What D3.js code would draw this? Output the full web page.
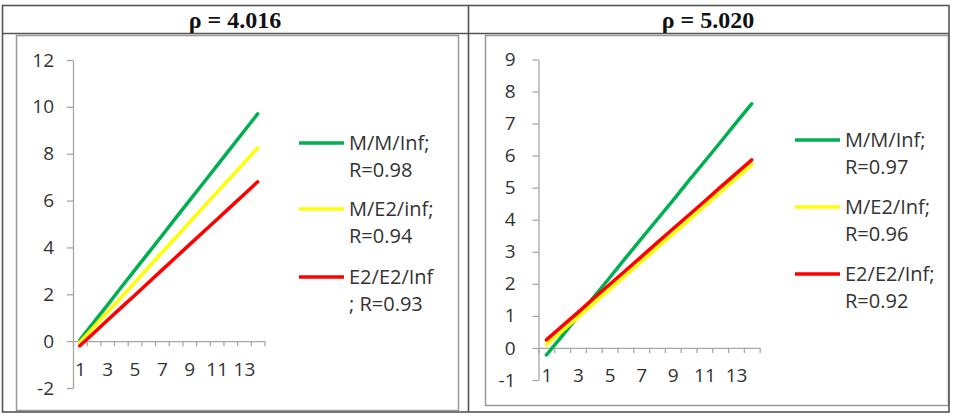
<!DOCTYPE html>
<html>
<head>
<meta charset="utf-8">
<script src="https://cdn.jsdelivr.net/npm/d3@7"></script>
<style>
  body { margin: 0; background: #fff; }
  svg { display: block; }
</style>
</head>
<body>
<div id="chart"></div>
<script>
var width = 966
var height = 417

// data
var categories = [1, 2, 3, 4, 5, 6, 7, 8, 9, 10, 11, 12, 13, 14]
var xLabels = [1, 3, 5, 7, 9, 11, 13]
var titles = ["ρ = 4.016", "ρ = 5.020"]
var colors = ["#00B050", "#FFFF00", "#FF0000"]

var yTicksLeft = [-2, 0, 2, 4, 6, 8, 10, 12]
var yTicksRight = [-1, 0, 1, 2, 3, 4, 5, 6, 7, 8, 9]

var leftMM   = [0.05, 0.79, 1.53, 2.28, 3.02, 3.76, 4.50, 5.25, 5.99, 6.73, 7.47, 8.22, 8.96, 9.70]
var leftME2  = [-0.05, 0.59, 1.23, 1.86, 2.50, 3.14, 3.78, 4.42, 5.06, 5.70, 6.34, 6.97, 7.61, 8.25]
var leftE2E2 = [-0.20, 0.34, 0.88, 1.42, 1.95, 2.49, 3.03, 3.57, 4.11, 4.65, 5.18, 5.72, 6.26, 6.80]

var rightMM   = [-0.22, 0.38, 0.99, 1.59, 2.19, 2.80, 3.40, 4.00, 4.60, 5.21, 5.81, 6.41, 7.02, 7.62]
var rightME2  = [0.10, 0.53, 0.96, 1.40, 1.83, 2.26, 2.69, 3.13, 3.56, 3.99, 4.42, 4.86, 5.29, 5.72]
var rightE2E2 = [0.25, 0.68, 1.11, 1.55, 1.98, 2.41, 2.84, 3.28, 3.71, 4.14, 4.57, 5.01, 5.44, 5.87]

var leftLegend  = [["M/M/Inf;", "R=0.98"], ["M/E2/inf;", "R=0.94"], ["E2/E2/Inf", "; R=0.93"]]
var rightLegend = [["M/M/Inf;", "R=0.97"], ["M/E2/Inf;", "R=0.96"], ["E2/E2/Inf;", "R=0.92"]]

var panels = [
  {
    title: titles[0], titleX: 235,
    series: [leftMM, leftME2, leftE2E2], legend: leftLegend,
    yDomain: [-2, 12], yTicks: yTicksLeft,
    xRange: [73, 264.5], yRange: [388, 60], yPad: 13,
    legX: 299, legY: [143, 209, 277], legGap: 27,
    frame: [16, 35, 442, 375]
  },
  {
    title: titles[1], titleX: 708,
    series: [rightMM, rightME2, rightE2E2], legend: rightLegend,
    yDomain: [-1, 9], yTicks: yTicksRight,
    xRange: [538.5, 759.7], yRange: [380, 59.5], yPad: 17,
    legX: 795, legY: [140, 207, 274], legGap: 26.5,
    frame: [485, 35, 463, 370]
  }
]

var svg = d3.select("#chart")
  .append("svg")
    .attr("width", width)
    .attr("height", height)

svg.append("rect")
  .attr("width", width)
  .attr("height", height)
  .attr("fill", "#fff")

// chart frames
panels.forEach(function(p) {
  svg.append("rect")
    .attr("x", p.frame[0] + 0.5)
    .attr("y", p.frame[1] + 0.5)
    .attr("width", p.frame[2])
    .attr("height", p.frame[3])
    .attr("fill", "none")
    .attr("stroke", "#999")
    .attr("stroke-width", 1.5)
})

// table lines
var table = svg.append("g")
  .attr("fill", "none")
  .attr("stroke", "#555")
  .attr("stroke-width", 1.6)
table.append("rect").attr("x", 2.5).attr("y", 5.5).attr("width", 946.5).attr("height", 406.5)
table.append("line").attr("x1", 2.5).attr("x2", 949).attr("y1", 33.5).attr("y2", 33.5)
table.append("line").attr("x1", 468.5).attr("x2", 468.5).attr("y1", 5.5).attr("y2", 412)

panels.forEach(function(p) {
  svg.append("text")
    .attr("x", p.titleX)
    .attr("y", 28)
    .attr("text-anchor", "middle")
    .style("font-family", "'Liberation Serif', 'Times New Roman', serif")
    .style("font-weight", "bold")
    .style("font-size", "24px")
    .attr("fill", "#111")
    .text(p.title)

  var x = d3.scaleLinear()
    .domain([0.5, categories.length + 0.5])
    .range(p.xRange)
  var y = d3.scaleLinear()
    .domain(p.yDomain)
    .range(p.yRange)

  var g = svg.append("g")

  // y axis
  g.append("g")
    .attr("transform", "translate(" + p.xRange[0] + ",0)")
    .call(d3.axisLeft(y).tickValues(p.yTicks).tickSize(6).tickSizeOuter(0).tickPadding(p.yPad).tickFormat(String))
  // x axis: tick marks between categories
  g.append("g")
    .attr("transform", "translate(0," + y(0) + ")")
    .call(d3.axisBottom(x).tickValues(d3.range(0.5, categories.length + 1, 1)).tickSize(5).tickSizeOuter(0).tickFormat(""))
  var xLabelAxis = g.append("g")
    .attr("transform", "translate(0," + y(0) + ")")
    .call(d3.axisBottom(x).tickValues(xLabels).tickSize(0).tickPadding(21).tickFormat(String))
  xLabelAxis.select(".domain").remove()

  g.selectAll(".domain, .tick line")
    .attr("stroke", "#a6a6a6")
    .attr("stroke-width", 1.3)
  g.selectAll(".tick text")
    .attr("fill", "#333")
    .style("font-family", "'Open Sans', sans-serif")
    .style("font-size", "19px")

  var line = d3.line()
    .x(function(d, i) { return x(categories[i]) })
    .y(function(d) { return y(d) })

  g.selectAll(".series")
    .data(p.series)
    .enter()
    .append("path")
      .attr("class", "series")
      .attr("d", line)
      .attr("fill", "none")
      .attr("stroke", function(d, i) { return colors[i] })
      .attr("stroke-width", 3.5)
      .attr("stroke-linecap", "round")

  // legend
  var leg = g.selectAll(".leg")
    .data(p.legend)
    .enter()
    .append("g")
      .attr("class", "leg")
      .attr("transform", function(d, i) { return "translate(" + p.legX + "," + p.legY[i] + ")" })
  leg.append("line")
    .attr("x1", 0).attr("x2", 45)
    .attr("stroke", function(d, i) { return colors[i] })
    .attr("stroke-width", 3.5)
  leg.append("text")
    .attr("x", 50)
    .attr("dy", "0.35em")
    .attr("fill", "#333")
    .style("font-family", "'Open Sans', sans-serif")
    .style("font-size", "20px")
    .text(function(d) { return d[0] })
  leg.append("text")
    .attr("x", 50)
    .attr("y", p.legGap)
    .attr("dy", "0.35em")
    .attr("fill", "#333")
    .style("font-family", "'Open Sans', sans-serif")
    .style("font-size", "20px")
    .text(function(d) { return d[1] })
})
</script>
</body>
</html>
